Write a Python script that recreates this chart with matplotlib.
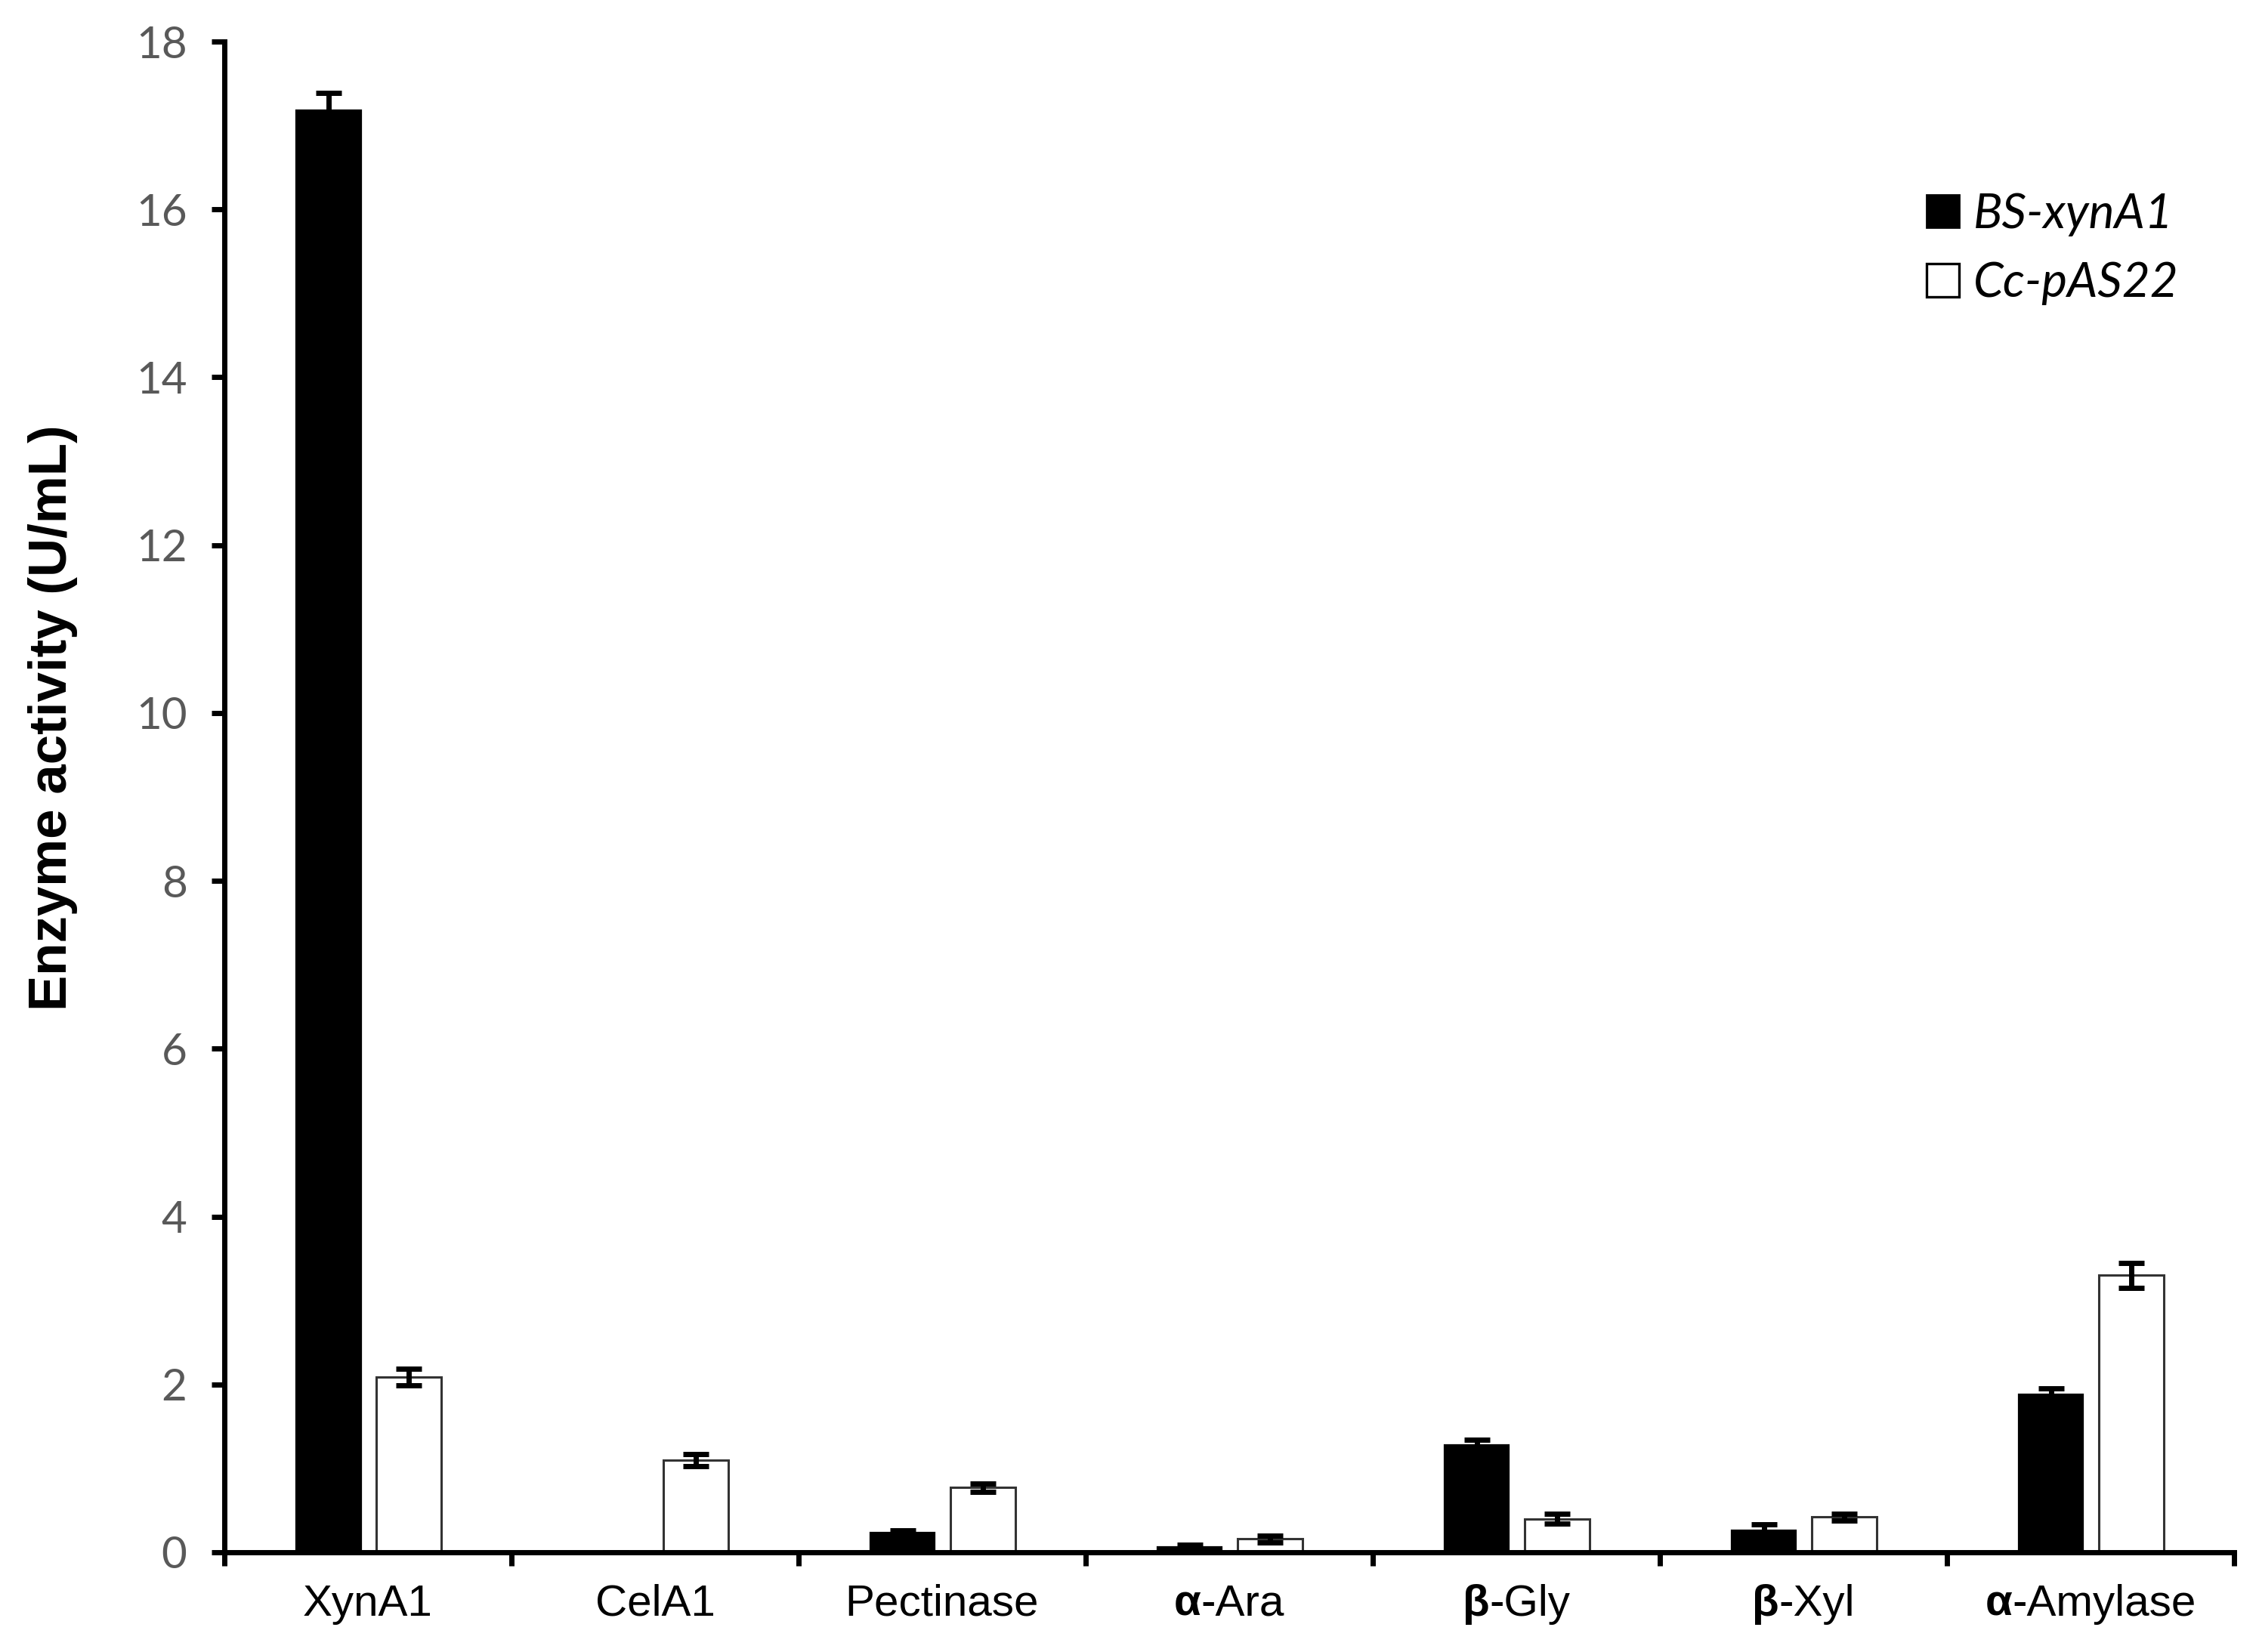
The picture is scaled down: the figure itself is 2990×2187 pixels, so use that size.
import numpy as np
import matplotlib
matplotlib.use("Agg")
from matplotlib import pyplot as plt
from matplotlib.patches import Patch
from matplotlib.offsetbox import TextArea, HPacker, AnnotationBbox

# datos
greek = ["", "", "", "α", "β", "β", "α"]
names = ["XynA1", "CelA1", "Pectinase", "-Ara", "-Gly", "-Xyl", "-Amylase"]
bs_xyn = [17.18, 0.0, 0.23, 0.06, 1.28, 0.26, 1.88]
bs_err = [0.21, 0.0, 0.03, 0.03, 0.06, 0.07, 0.07]
cc_pas = [2.09, 1.10, 0.77, 0.16, 0.40, 0.42, 3.30]
cc_err = [0.10, 0.07, 0.05, 0.04, 0.06, 0.04, 0.15]
yticks = [0, 2, 4, 6, 8, 10, 12, 14, 16, 18]

W, H = 2990, 2187
fig = plt.figure(figsize=(W / 200, H / 200), dpi=200)
ax = fig.add_axes([297 / W, 1 - 2055 / H, 2660 / W, 2000 / H])

x = np.arange(len(names))
ancho = 0.226
ax.bar(x - 0.138, bs_xyn, ancho, color="black", edgecolor="black", linewidth=0.8,
       yerr=bs_err, ecolor="black", error_kw=dict(elinewidth=2.5, capsize=6, capthick=2.5), zorder=2)
ax.bar(x + 0.143, cc_pas, ancho, color="white", edgecolor="#333333", linewidth=1.1,
       yerr=cc_err, ecolor="black", error_kw=dict(elinewidth=2.5, capsize=6, capthick=2.5), zorder=2)

ax.set_xlim(-0.5, len(names) - 0.5)
ax.set_ylim(0, 18)
ax.set_yticks(yticks)
ax.set_xticks(np.arange(-0.5, len(names)))
ax.set_xticklabels([])
for s in ["top", "right"]:
    ax.spines[s].set_visible(False)
for s in ["left", "bottom"]:
    ax.spines[s].set_linewidth(2.5)
ax.tick_params(axis="both", direction="out", width=2.5, length=6.3)
ax.tick_params(axis="y", labelsize=21, labelcolor="#595959", pad=11.5)
for t in ax.get_yticklabels():
    t.set_family("Lato")

narrow = ["Liberation Sans Narrow", "Liberation Sans", "DejaVu Sans"]
for i in range(len(names)):
    partes = []
    if greek[i]:
        partes.append(TextArea(greek[i], textprops=dict(family=narrow, fontsize=21, fontweight="bold")))
    partes.append(TextArea(names[i], textprops=dict(family=narrow, fontsize=21)))
    caja = HPacker(children=partes, align="baseline", pad=0, sep=0)
    ab = AnnotationBbox(caja, (i, 0), xycoords="data", xybox=(0, -15), boxcoords="offset points",
                        box_alignment=(0.5, 1), frameon=False, pad=0, annotation_clip=False)
    ax.add_artist(ab)

ax.set_ylabel("Enzyme activity (U/mL)", fontsize=25.5, fontweight="bold",
              family="Liberation Sans", va="center")
ax.yaxis.set_label_coords(-0.0853, 0.5525)

handles = [Patch(facecolor="black", edgecolor="black"),
           Patch(facecolor="white", edgecolor="black", linewidth=1.2)]
leg = ax.legend(handles, ["BS-xynA1", "Cc-pAS22"], loc="upper left",
                bbox_to_anchor=(2550 / W, 1 - 255 / H), bbox_transform=fig.transFigure,
                frameon=False, borderpad=0, borderaxespad=0,
                handlelength=0.67, handleheight=0.67, handletextpad=0.3, labelspacing=0.52,
                prop=dict(family="Lato", style="italic", size=23))

fig.savefig("out.png", dpi=200, facecolor="white")
